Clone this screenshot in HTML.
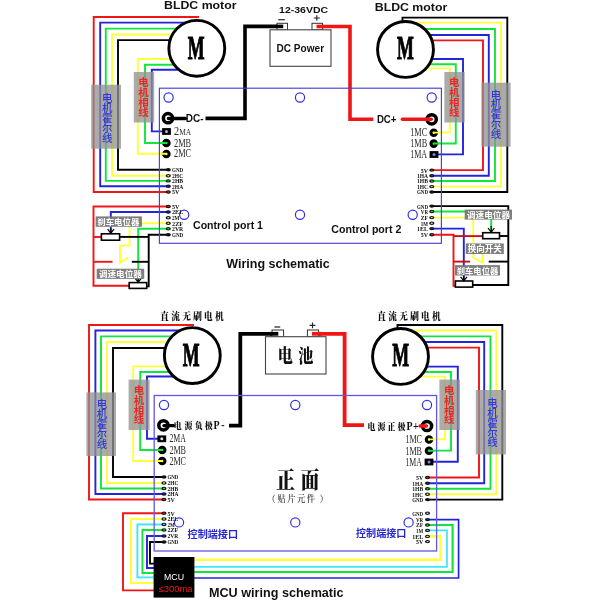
<!DOCTYPE html>
<html lang="zh"><head><meta charset="utf-8"><title>BLDC wiring schematic</title>
<style>
html,body{margin:0;padding:0;background:#fff;}
body{width:600px;height:600px;overflow:hidden;}
svg{display:block;}
</style></head><body>
<svg width="600" height="600" viewBox="0 0 600 600">
<rect width="600" height="600" fill="#fff"/>
<g id="d" style="filter:blur(0.4px)">
<path d="M199,17 H93.7 V192 H168" stroke="#f01616" stroke-width="1.9" fill="none" />
<path d="M197,22.6 H100.2 V186.3 H168" stroke="#2424dc" stroke-width="1.9" fill="none" />
<path d="M197,28.6 H105.8 V180.9 H168" stroke="#12e63e" stroke-width="1.9" fill="none" />
<path d="M197,34.5 H112 V175.7 H168" stroke="#ffff3c" stroke-width="1.9" fill="none" />
<path d="M197,40.1 H118 V169.8 H168" stroke="#000" stroke-width="1.9" fill="none" />
<path d="M197,59 H137.8 V153.7 H166" stroke="#ffff3c" stroke-width="1.9" fill="none" />
<path d="M197,64.7 H145 V143 H166" stroke="#12e63e" stroke-width="1.9" fill="none" />
<path d="M197,69.7 H151.8 V131.4 H163" stroke="#2424dc" stroke-width="1.9" fill="none" />
<path d="M402.5,24 V17.6 H507.3 V192 H432" stroke="#000" stroke-width="1.9" fill="none" />
<path d="M406,22.6 H501 V186.6 H432" stroke="#ffff3c" stroke-width="1.9" fill="none" />
<path d="M406,29 H495 V181 H432" stroke="#12e63e" stroke-width="1.9" fill="none" />
<path d="M406,35 H488.8 V175.7 H432" stroke="#2424dc" stroke-width="1.9" fill="none" />
<path d="M406,40.4 H483 V170.1 H432" stroke="#f01616" stroke-width="1.9" fill="none" />
<path d="M406,59 H463 V154.4 H434" stroke="#2424dc" stroke-width="1.9" fill="none" />
<path d="M406,64.2 H455.8 V143.5 H434" stroke="#12e63e" stroke-width="1.9" fill="none" />
<path d="M406,68.4 H449.8 V132.5 H434" stroke="#ffff3c" stroke-width="1.9" fill="none" />
<path d="M168,206.5 H93.5 V285.8 H129.2" stroke="#f01616" stroke-width="1.9" fill="none" />
<path d="M93.5,237 H101.3" stroke="#f01616" stroke-width="1.9" fill="none" />
<path d="M93.5,261.8 H112.5" stroke="#f01616" stroke-width="1.9" fill="none" />
<path d="M168,212 H110.8 V231.5" stroke="#2424dc" stroke-width="1.9" fill="none" />
<path d="M168,223.2 H129.5 V245.6 H120 V263 L128.4,257.3" stroke="#ffff3c" stroke-width="1.9" fill="none" />
<path d="M168,228.8 H138.2 V280.5" stroke="#12e63e" stroke-width="1.9" fill="none" />
<path d="M168,234.8 H148.7 V286.4 H146.7" stroke="#000" stroke-width="1.9" fill="none" />
<path d="M119.7,236.9 H148.7" stroke="#000" stroke-width="1.9" fill="none" />
<path d="M131.8,261.8 H148.7" stroke="#000" stroke-width="1.9" fill="none" />
<path d="M432,206.1 H508.3 V285 H472.7" stroke="#000" stroke-width="1.9" fill="none" />
<path d="M499.5,236 H508.3" stroke="#000" stroke-width="1.9" fill="none" />
<path d="M488.7,261.6 H508.3" stroke="#000" stroke-width="1.9" fill="none" />
<path d="M432,211.5 H491.2 V230.5" stroke="#12e63e" stroke-width="1.9" fill="none" />
<path d="M432,217.6 H473.2 V257.6 L482.6,262.6 V253" stroke="#ffff3c" stroke-width="1.9" fill="none" stroke-linejoin="round"/>
<path d="M432,228.6 H463.8 V279" stroke="#2424dc" stroke-width="1.9" fill="none" />
<path d="M432,234.8 H453.5 V285.8 H456" stroke="#f01616" stroke-width="1.9" fill="none" />
<path d="M453.5,236.1 H483" stroke="#cc1010" stroke-width="1.9" fill="none" />
<path d="M453.5,261.6 H470" stroke="#cc1010" stroke-width="1.9" fill="none" />
<path d="M283,26.4 H245 V118.4 H205.5" stroke="#000" stroke-width="3.6" fill="none" />
<path d="M316.7,26.5 H350 V119.2 H373.3" stroke="#f01616" stroke-width="3.6" fill="none" />
<rect x="159.4" y="88.2" width="282.0" height="155.1" fill="none" stroke="#4840d0" stroke-width="1.15" />
<circle cx="168.6" cy="97.5" r="4.6" fill="none" stroke="#3030e0" stroke-width="1.2"/>
<circle cx="300" cy="97.5" r="4.6" fill="none" stroke="#3030e0" stroke-width="1.2"/>
<circle cx="431.7" cy="97.5" r="4.6" fill="none" stroke="#3030e0" stroke-width="1.2"/>
<circle cx="184.2" cy="214.7" r="4.6" fill="none" stroke="#3030e0" stroke-width="1.2"/>
<circle cx="300" cy="214.7" r="4.6" fill="none" stroke="#3030e0" stroke-width="1.2"/>
<circle cx="412.7" cy="214.7" r="4.6" fill="none" stroke="#3030e0" stroke-width="1.2"/>
<circle cx="196.8" cy="48.3" r="27.95" fill="#fff" stroke="#000" stroke-width="2.9"/>
<text transform="translate(196.2,58.9) scale(0.53,1)" font-size="33.7" font-weight="bold" text-anchor="middle" fill="#000" stroke="#000" stroke-width="1.1" stroke-linejoin="round" font-family='"Liberation Serif",serif'>M</text>
<circle cx="405.5" cy="49.4" r="27.95" fill="#fff" stroke="#000" stroke-width="2.9"/>
<text transform="translate(405.5,58.9) scale(0.53,1)" font-size="33.7" font-weight="bold" text-anchor="middle" fill="#000" stroke="#000" stroke-width="1.1" stroke-linejoin="round" font-family='"Liberation Serif",serif'>M</text>
<rect x="91.2" y="84.7" width="29.8" height="64.0" fill="#929292" stroke="none" stroke-width="1" opacity="0.77"/>
<rect x="133.8" y="72" width="20.4" height="50.5" fill="#929292" stroke="none" stroke-width="1" opacity="0.77"/>
<rect x="444.4" y="72" width="20.3" height="50.5" fill="#929292" stroke="none" stroke-width="1" opacity="0.77"/>
<rect x="481.3" y="82.7" width="29.3" height="64.0" fill="#929292" stroke="none" stroke-width="1" opacity="0.77"/>
<text transform="scale(1.04,1)" x="102.98 102.98 102.98 102.98 102.98" y="102.1 112.0 121.9 131.8 141.7" font-size="10" fill="#3434e0" font-family='"Liberation Sans","Noto Sans CJK SC",sans-serif' font-weight="500" text-anchor="middle">电机霍尔线</text>
<text transform="scale(1.04,1)" x="137.88 137.88 137.88 137.88" y="85.7 95.75 105.8 115.85" font-size="10" fill="#f02424" font-family='"Liberation Sans","Noto Sans CJK SC",sans-serif' font-weight="bold" text-anchor="middle">电机相线</text>
<text transform="scale(1.04,1)" x="436.83 436.83 436.83 436.83" y="86.2 96.2 106.2 116.2" font-size="10" fill="#f02424" font-family='"Liberation Sans","Noto Sans CJK SC",sans-serif' font-weight="bold" text-anchor="middle">电机相线</text>
<text transform="scale(1.04,1)" x="476.83 476.83 476.83 476.83 476.83" y="98.6 108.45 118.3 128.15 138.0" font-size="10" fill="#3434e0" font-family='"Liberation Sans","Noto Sans CJK SC",sans-serif' font-weight="500" text-anchor="middle">电机霍尔线</text>
<rect x="277" y="23.3" width="10.5" height="6.7" fill="#fff" stroke="#333" stroke-width="1" />
<rect x="312" y="23.3" width="10.5" height="6.7" fill="#fff" stroke="#333" stroke-width="1" />
<rect x="270" y="29.8" width="61" height="36.5" fill="#fff" stroke="#444" stroke-width="1.1" />
<path d="M283.2,26.4 H276" stroke="#000" stroke-width="3.6" fill="none" />
<path d="M316.5,26.5 H324" stroke="#f01616" stroke-width="3.6" fill="none" />
<text x="300.3" y="52" font-size="10" fill="#111" font-family='"Liberation Sans","Noto Sans CJK SC",sans-serif' font-weight="bold" text-anchor="middle" textLength="47.5" lengthAdjust="spacingAndGlyphs" >DC Power</text>
<text x="303.6" y="13.0" font-size="9.7" fill="#111" font-family='"Liberation Sans","Noto Sans CJK SC",sans-serif' font-weight="bold" text-anchor="middle" textLength="49" lengthAdjust="spacingAndGlyphs" >12-36VDC</text>
<path d="M278.3,19.7 H284.8" stroke="#222" stroke-width="1.2" fill="none" />
<path d="M313.8,18 H319.8 M316.8,15.2 V20.8" stroke="#222" stroke-width="1.1" fill="none" />
<text x="200.3" y="8.5" font-size="10.6" fill="#111" font-family='"Liberation Sans","Noto Sans CJK SC",sans-serif' font-weight="bold" text-anchor="middle" textLength="72.5" lengthAdjust="spacingAndGlyphs" >BLDC motor</text>
<text x="411" y="10.5" font-size="10.6" fill="#111" font-family='"Liberation Sans","Noto Sans CJK SC",sans-serif' font-weight="bold" text-anchor="middle" textLength="72.5" lengthAdjust="spacingAndGlyphs" >BLDC motor</text>
<text x="194.7" y="121.8" font-size="10.2" fill="#111" font-family='"Liberation Sans","Noto Sans CJK SC",sans-serif' font-weight="bold" text-anchor="middle" textLength="17.8" lengthAdjust="spacingAndGlyphs" >DC-</text>
<text x="386.7" y="123.2" font-size="10" fill="#111" font-family='"Liberation Sans","Noto Sans CJK SC",sans-serif' font-weight="bold" text-anchor="middle" textLength="19.6" lengthAdjust="spacingAndGlyphs" >DC+</text>
<text x="228" y="229.3" font-size="10.8" fill="#111" font-family='"Liberation Sans","Noto Sans CJK SC",sans-serif' font-weight="bold" text-anchor="middle" textLength="70" lengthAdjust="spacingAndGlyphs" >Control port 1</text>
<text x="366.3" y="232.8" font-size="10.8" fill="#111" font-family='"Liberation Sans","Noto Sans CJK SC",sans-serif' font-weight="bold" text-anchor="middle" textLength="70" lengthAdjust="spacingAndGlyphs" >Control port 2</text>
<text x="278" y="268" font-size="13" fill="#111" font-family='"Liberation Sans","Noto Sans CJK SC",sans-serif' font-weight="bold" text-anchor="middle" textLength="103.5" lengthAdjust="spacingAndGlyphs" >Wiring schematic</text>
<circle cx="168" cy="118.2" r="4.6" fill="#fff" stroke="#000" stroke-width="3.5"/>
<path d="M185.3,118.4 H168.5" stroke="#000" stroke-width="3.5" fill="none" stroke-linecap="round"/>
<circle cx="431.7" cy="119.3" r="4.6" fill="#fff" stroke="#000" stroke-width="3.5"/>
<path d="M402.4,119.2 H431.2" stroke="#f01616" stroke-width="3.5" fill="none" stroke-linecap="round"/>
<rect x="162.1" y="128.1" width="8.8" height="6.8" fill="#000" stroke="none" stroke-width="1" />
<circle cx="166.5" cy="131.5" r="1.5" fill="#b8a8e8" stroke="none" stroke-width="1"/>
<circle cx="166.4" cy="143" r="2.75" fill="#12e63e" stroke="#000" stroke-width="3.1"/>
<circle cx="166.4" cy="154" r="2.75" fill="#ffff3c" stroke="#000" stroke-width="3.1"/>
<path d="M161.8,143 H166.1" stroke="#12e63e" stroke-width="1.9" fill="none" stroke-linecap="round"/>
<path d="M161.8,153.7 H166.1" stroke="#ffff3c" stroke-width="1.9" fill="none" stroke-linecap="round"/>
<text x="174" y="135" font-size="11.8" fill="#2a2a2a" font-family='"Liberation Serif",serif' textLength="17.2" lengthAdjust="spacingAndGlyphs">2<tspan font-size="8.6">MA</tspan></text>
<text x="174" y="146.7" font-size="11.8" fill="#2a2a2a" font-family='"Liberation Serif","Noto Serif CJK SC",serif' font-weight="normal" text-anchor="start" textLength="17.2" lengthAdjust="spacingAndGlyphs" >2MB</text>
<text x="174" y="157.3" font-size="11.8" fill="#2a2a2a" font-family='"Liberation Serif","Noto Serif CJK SC",serif' font-weight="normal" text-anchor="start" textLength="17.2" lengthAdjust="spacingAndGlyphs" >2MC</text>
<circle cx="433.7" cy="132.7" r="2.75" fill="#ffff3c" stroke="#000" stroke-width="3.1"/>
<circle cx="433.7" cy="143.6" r="2.75" fill="#12e63e" stroke="#000" stroke-width="3.1"/>
<rect x="429.6" y="151.1" width="8.8" height="6.8" fill="#000" stroke="none" stroke-width="1" />
<circle cx="434" cy="154.5" r="1.5" fill="#8080e8" stroke="none" stroke-width="1"/>
<path d="M438.3,132.6 H434.0" stroke="#ffff3c" stroke-width="1.9" fill="none" stroke-linecap="round"/>
<path d="M438.3,143.5 H434.0" stroke="#12e63e" stroke-width="1.9" fill="none" stroke-linecap="round"/>
<text x="427.2" y="136.3" font-size="11.8" fill="#2a2a2a" font-family='"Liberation Serif","Noto Serif CJK SC",serif' font-weight="normal" text-anchor="end" textLength="17" lengthAdjust="spacingAndGlyphs" >1MC</text>
<text x="427.2" y="147.3" font-size="11.8" fill="#2a2a2a" font-family='"Liberation Serif","Noto Serif CJK SC",serif' font-weight="normal" text-anchor="end" textLength="17" lengthAdjust="spacingAndGlyphs" >1MB</text>
<text x="427.2" y="158.3" font-size="11.8" fill="#2a2a2a" font-family='"Liberation Serif","Noto Serif CJK SC",serif' font-weight="normal" text-anchor="end" textLength="17" lengthAdjust="spacingAndGlyphs" >1MA</text>
<ellipse cx="168.3" cy="169.8" rx="2.6" ry="1.7" fill="#111"/>
<text x="172" y="172.10000000000002" font-size="6.7" fill="#111" font-family='"Liberation Serif","Noto Serif CJK SC",serif' font-weight="bold" text-anchor="start" textLength="11.2" lengthAdjust="spacingAndGlyphs" >GND</text>
<ellipse cx="168.3" cy="175.7" rx="2.6" ry="1.7" fill="#111"/>
<ellipse cx="168.3" cy="175.7" rx="1.1" ry="0.7" fill="#ffff3c"/>
<text x="172" y="178.0" font-size="6.7" fill="#111" font-family='"Liberation Serif","Noto Serif CJK SC",serif' font-weight="bold" text-anchor="start" textLength="11.2" lengthAdjust="spacingAndGlyphs" >2HC</text>
<ellipse cx="168.3" cy="180.9" rx="2.6" ry="1.7" fill="#111"/>
<ellipse cx="168.3" cy="180.9" rx="1.1" ry="0.7" fill="#12e63e"/>
<text x="172" y="183.20000000000002" font-size="6.7" fill="#111" font-family='"Liberation Serif","Noto Serif CJK SC",serif' font-weight="bold" text-anchor="start" textLength="11.2" lengthAdjust="spacingAndGlyphs" >2HB</text>
<ellipse cx="168.3" cy="186.3" rx="2.6" ry="1.7" fill="#111"/>
<ellipse cx="168.3" cy="186.3" rx="1.1" ry="0.7" fill="#2424dc"/>
<text x="172" y="188.60000000000002" font-size="6.7" fill="#111" font-family='"Liberation Serif","Noto Serif CJK SC",serif' font-weight="bold" text-anchor="start" textLength="11.2" lengthAdjust="spacingAndGlyphs" >2HA</text>
<ellipse cx="168.3" cy="192" rx="2.6" ry="1.7" fill="#111"/>
<ellipse cx="168.3" cy="192" rx="1.1" ry="0.7" fill="#f01616"/>
<text x="172" y="194.3" font-size="6.7" fill="#111" font-family='"Liberation Serif","Noto Serif CJK SC",serif' font-weight="bold" text-anchor="start" textLength="7.4" lengthAdjust="spacingAndGlyphs" >5V</text>
<ellipse cx="168.3" cy="206.5" rx="2.6" ry="1.7" fill="#111"/>
<ellipse cx="168.3" cy="206.5" rx="1.1" ry="0.7" fill="#f01616"/>
<text x="172" y="208.8" font-size="6.7" fill="#111" font-family='"Liberation Serif","Noto Serif CJK SC",serif' font-weight="bold" text-anchor="start" textLength="7.4" lengthAdjust="spacingAndGlyphs" >5V</text>
<ellipse cx="168.3" cy="212" rx="2.6" ry="1.7" fill="#111"/>
<ellipse cx="168.3" cy="212" rx="1.1" ry="0.7" fill="#2424dc"/>
<text x="172" y="214.3" font-size="6.7" fill="#111" font-family='"Liberation Serif","Noto Serif CJK SC",serif' font-weight="bold" text-anchor="start" textLength="11.2" lengthAdjust="spacingAndGlyphs" >2EL</text>
<ellipse cx="168.3" cy="217.8" rx="2.6" ry="1.7" fill="#111"/>
<ellipse cx="168.3" cy="217.8" rx="1.1" ry="0.7" fill="#ddd"/>
<text x="172" y="220.10000000000002" font-size="6.7" fill="#111" font-family='"Liberation Serif","Noto Serif CJK SC",serif' font-weight="bold" text-anchor="start" textLength="7.4" lengthAdjust="spacingAndGlyphs" >2M</text>
<ellipse cx="168.3" cy="223.2" rx="2.6" ry="1.7" fill="#111"/>
<ellipse cx="168.3" cy="223.2" rx="1.1" ry="0.7" fill="#ffff3c"/>
<text x="172" y="225.5" font-size="6.7" fill="#111" font-family='"Liberation Serif","Noto Serif CJK SC",serif' font-weight="bold" text-anchor="start" textLength="11.2" lengthAdjust="spacingAndGlyphs" >2ZF</text>
<ellipse cx="168.3" cy="228.8" rx="2.6" ry="1.7" fill="#111"/>
<ellipse cx="168.3" cy="228.8" rx="1.1" ry="0.7" fill="#12e63e"/>
<text x="172" y="231.10000000000002" font-size="6.7" fill="#111" font-family='"Liberation Serif","Noto Serif CJK SC",serif' font-weight="bold" text-anchor="start" textLength="11.2" lengthAdjust="spacingAndGlyphs" >2VR</text>
<ellipse cx="168.3" cy="234.8" rx="2.6" ry="1.7" fill="#111"/>
<text x="172" y="237.10000000000002" font-size="6.7" fill="#111" font-family='"Liberation Serif","Noto Serif CJK SC",serif' font-weight="bold" text-anchor="start" textLength="11.2" lengthAdjust="spacingAndGlyphs" >GND</text>
<ellipse cx="431.8" cy="170.1" rx="2.6" ry="1.7" fill="#111"/>
<ellipse cx="431.8" cy="170.1" rx="1.1" ry="0.7" fill="#f01616"/>
<text x="428" y="172.5" font-size="6.7" fill="#111" font-family='"Liberation Serif","Noto Serif CJK SC",serif' font-weight="bold" text-anchor="end" textLength="7.2" lengthAdjust="spacingAndGlyphs" >5V</text>
<ellipse cx="431.8" cy="175.7" rx="2.6" ry="1.7" fill="#111"/>
<ellipse cx="431.8" cy="175.7" rx="1.1" ry="0.7" fill="#2424dc"/>
<text x="428" y="178.1" font-size="6.7" fill="#111" font-family='"Liberation Serif","Noto Serif CJK SC",serif' font-weight="bold" text-anchor="end" textLength="11" lengthAdjust="spacingAndGlyphs" >1HA</text>
<ellipse cx="431.8" cy="181" rx="2.6" ry="1.7" fill="#111"/>
<ellipse cx="431.8" cy="181" rx="1.1" ry="0.7" fill="#12e63e"/>
<text x="428" y="183.4" font-size="6.7" fill="#111" font-family='"Liberation Serif","Noto Serif CJK SC",serif' font-weight="bold" text-anchor="end" textLength="11" lengthAdjust="spacingAndGlyphs" >1HB</text>
<ellipse cx="431.8" cy="186.6" rx="2.6" ry="1.7" fill="#111"/>
<ellipse cx="431.8" cy="186.6" rx="1.1" ry="0.7" fill="#ffff3c"/>
<text x="428" y="189.0" font-size="6.7" fill="#111" font-family='"Liberation Serif","Noto Serif CJK SC",serif' font-weight="bold" text-anchor="end" textLength="11" lengthAdjust="spacingAndGlyphs" >1HC</text>
<ellipse cx="431.8" cy="192" rx="2.6" ry="1.7" fill="#111"/>
<text x="428" y="194.4" font-size="6.7" fill="#111" font-family='"Liberation Serif","Noto Serif CJK SC",serif' font-weight="bold" text-anchor="end" textLength="11" lengthAdjust="spacingAndGlyphs" >GND</text>
<ellipse cx="431.8" cy="206.1" rx="2.6" ry="1.7" fill="#111"/>
<text x="428" y="208.5" font-size="6.7" fill="#111" font-family='"Liberation Serif","Noto Serif CJK SC",serif' font-weight="bold" text-anchor="end" textLength="11" lengthAdjust="spacingAndGlyphs" >GND</text>
<ellipse cx="431.8" cy="211.5" rx="2.6" ry="1.7" fill="#111"/>
<ellipse cx="431.8" cy="211.5" rx="1.1" ry="0.7" fill="#12e63e"/>
<text x="428" y="213.9" font-size="6.7" fill="#111" font-family='"Liberation Serif","Noto Serif CJK SC",serif' font-weight="bold" text-anchor="end" textLength="7.2" lengthAdjust="spacingAndGlyphs" >VR</text>
<ellipse cx="431.8" cy="217.6" rx="2.6" ry="1.7" fill="#111"/>
<ellipse cx="431.8" cy="217.6" rx="1.1" ry="0.7" fill="#ffff3c"/>
<text x="428" y="220.0" font-size="6.7" fill="#111" font-family='"Liberation Serif","Noto Serif CJK SC",serif' font-weight="bold" text-anchor="end" textLength="7.2" lengthAdjust="spacingAndGlyphs" >ZF</text>
<ellipse cx="431.8" cy="223.2" rx="2.6" ry="1.7" fill="#111"/>
<ellipse cx="431.8" cy="223.2" rx="1.1" ry="0.7" fill="#ddd"/>
<text x="428" y="225.6" font-size="6.7" fill="#111" font-family='"Liberation Serif","Noto Serif CJK SC",serif' font-weight="bold" text-anchor="end" textLength="7.2" lengthAdjust="spacingAndGlyphs" >1M</text>
<ellipse cx="431.8" cy="228.6" rx="2.6" ry="1.7" fill="#111"/>
<ellipse cx="431.8" cy="228.6" rx="1.1" ry="0.7" fill="#2424dc"/>
<text x="428" y="231.0" font-size="6.7" fill="#111" font-family='"Liberation Serif","Noto Serif CJK SC",serif' font-weight="bold" text-anchor="end" textLength="11" lengthAdjust="spacingAndGlyphs" >1EL</text>
<ellipse cx="431.8" cy="234.8" rx="2.6" ry="1.7" fill="#111"/>
<ellipse cx="431.8" cy="234.8" rx="1.1" ry="0.7" fill="#f01616"/>
<text x="428" y="237.20000000000002" font-size="6.7" fill="#111" font-family='"Liberation Serif","Noto Serif CJK SC",serif' font-weight="bold" text-anchor="end" textLength="7.2" lengthAdjust="spacingAndGlyphs" >5V</text>
<rect x="101.4" y="233.8" width="18.2" height="6.4" fill="#fff" stroke="#000" stroke-width="1.6" />
<path d="M107.6,229.2 L110.8,233.2 L114,229.2 M110.8,228.5 V233" stroke="#000" stroke-width="1.2" fill="none" />
<rect x="129.2" y="282.6" width="17.5" height="5.8" fill="#fff" stroke="#000" stroke-width="1.6" />
<path d="M135,278.2 L138.2,282.2 L141.4,278.2 M138.2,278.9 V282" stroke="#000" stroke-width="1.2" fill="none" />
<rect x="95.6" y="216.4" width="46.3" height="10.4" fill="#777" stroke="none" stroke-width="1" opacity="0.94"/>
<text x="118.3" y="224.9" font-size="8.3" fill="#fff" font-family='"Liberation Sans","Noto Sans CJK SC",sans-serif' font-weight="bold" text-anchor="middle" textLength="42" lengthAdjust="spacingAndGlyphs" >刹车电位器</text>
<rect x="96.7" y="268.7" width="47.5" height="10.2" fill="#777" stroke="none" stroke-width="1" opacity="0.94"/>
<text x="120.4" y="277" font-size="8.3" fill="#fff" font-family='"Liberation Sans","Noto Sans CJK SC",sans-serif' font-weight="bold" text-anchor="middle" textLength="43" lengthAdjust="spacingAndGlyphs" >调速电位器</text>
<rect x="482.7" y="232.7" width="16.8" height="6.0" fill="#fff" stroke="#000" stroke-width="1.6" />
<path d="M488,228 L491.2,232.2 L494.4,228 M491.2,226 V232" stroke="#000" stroke-width="1.2" fill="none" />
<rect x="455.4" y="281" width="17.3" height="6.1" fill="#fff" stroke="#000" stroke-width="1.6" />
<path d="M460.6,276.8 L463.8,280.8 L467,276.8 M463.8,275.5 V280.6" stroke="#000" stroke-width="1.2" fill="none" />
<rect x="464.7" y="209.6" width="47.3" height="10.0" fill="#777" stroke="none" stroke-width="1" opacity="0.94"/>
<text x="488.5" y="217.8" font-size="8.3" fill="#fff" font-family='"Liberation Sans","Noto Sans CJK SC",sans-serif' font-weight="bold" text-anchor="middle" textLength="43" lengthAdjust="spacingAndGlyphs" >调速电位器</text>
<rect x="465.8" y="243.4" width="38.0" height="10.6" fill="#777" stroke="none" stroke-width="1" opacity="0.94"/>
<text x="484.8" y="252" font-size="8.6" fill="#fff" font-family='"Liberation Sans","Noto Sans CJK SC",sans-serif' font-weight="bold" text-anchor="middle" textLength="34" lengthAdjust="spacingAndGlyphs" >换向开关</text>
<rect x="455" y="265.1" width="45" height="10.4" fill="#777" stroke="none" stroke-width="1" opacity="0.94"/>
<text x="477.5" y="273.6" font-size="8.3" fill="#fff" font-family='"Liberation Sans","Noto Sans CJK SC",sans-serif' font-weight="bold" text-anchor="middle" textLength="41.5" lengthAdjust="spacingAndGlyphs" >刹车电位器</text>
<path d="M194,325 H89 V499.5 H164" stroke="#f01616" stroke-width="1.9" fill="none" />
<path d="M192,330.5 H95.4 V494 H164" stroke="#2424dc" stroke-width="1.9" fill="none" />
<path d="M192,336.4 H101 V488.5 H164" stroke="#12e63e" stroke-width="1.9" fill="none" />
<path d="M192,342 H107 V483 H164" stroke="#ffff3c" stroke-width="1.9" fill="none" />
<path d="M192,348 H113 V477 H164" stroke="#000" stroke-width="1.9" fill="none" />
<path d="M192,366.4 H133.2 V461 H161" stroke="#ffff3c" stroke-width="1.9" fill="none" />
<path d="M192,372 H140.2 V450 H161" stroke="#12e63e" stroke-width="1.9" fill="none" />
<path d="M192,376.5 H147 V438.7 H158" stroke="#2424dc" stroke-width="1.9" fill="none" />
<path d="M397.5,330 V325 H502.3 V499.6 H427.5" stroke="#000" stroke-width="1.9" fill="none" />
<path d="M401,330.5 H496.3 V494.2 H427.5" stroke="#ffff3c" stroke-width="1.9" fill="none" />
<path d="M401,336.4 H490.5 V488.8 H427.5" stroke="#12e63e" stroke-width="1.9" fill="none" />
<path d="M401,342 H484.2 V483.3 H427.5" stroke="#2424dc" stroke-width="1.9" fill="none" />
<path d="M401,347.6 H479 V477.5 H427.5" stroke="#f01616" stroke-width="1.9" fill="none" />
<path d="M401,366.6 H457.8 V461.7 H429" stroke="#2424dc" stroke-width="1.9" fill="none" />
<path d="M401,372 H451 V450.6 H429" stroke="#12e63e" stroke-width="1.9" fill="none" />
<path d="M401,376.6 H445 V439.3 H429" stroke="#ffff3c" stroke-width="1.9" fill="none" />
<path d="M164,513.2 H123 V590.4 H156" stroke="#f01616" stroke-width="1.9" fill="none" />
<path d="M164,519 H131 V583 H156" stroke="#ffff3c" stroke-width="2.2" fill="none" />
<path d="M164,524.5 H137.4 V577.4 H156" stroke="#3fe6f5" stroke-width="1.9" fill="none" />
<path d="M164,530 H142.4 V573 H156" stroke="#12e63e" stroke-width="1.9" fill="none" />
<path d="M164,536 H147 V568 H156" stroke="#2424dc" stroke-width="1.9" fill="none" />
<path d="M164,542 H150 V563.6 H156" stroke="#000" stroke-width="1.9" fill="none" />
<path d="M192,559.8 H440.6 V536.4 H427.5" stroke="#ffff3c" stroke-width="2.6" fill="none" />
<path d="M192,566.8 H447 V530.4 H427.5" stroke="#3fe6f5" stroke-width="1.7" fill="none" />
<path d="M192,572 H452.6 V525 H427.5" stroke="#12e63e" stroke-width="2.2" fill="none" />
<path d="M192,578 H458.6 V519.6 H427.5" stroke="#2424dc" stroke-width="1.7" fill="none" />
<path d="M278,333.8 H240.3 V425.7 H229" stroke="#000" stroke-width="3.8" fill="none" />
<path d="M312,333.8 H344.6 V425.2 H364" stroke="#f01616" stroke-width="3.8" fill="none" />
<rect x="154.2" y="395.5" width="282.4" height="155.5" fill="none" stroke="#6258e0" stroke-width="1.3" />
<circle cx="164" cy="405" r="4.6" fill="none" stroke="#3030e0" stroke-width="1.2"/>
<circle cx="295.3" cy="405" r="4.6" fill="none" stroke="#3030e0" stroke-width="1.2"/>
<circle cx="427" cy="405" r="4.6" fill="none" stroke="#3030e0" stroke-width="1.2"/>
<circle cx="179" cy="522.4" r="4.6" fill="none" stroke="#3030e0" stroke-width="1.2"/>
<circle cx="295.3" cy="522.4" r="4.6" fill="none" stroke="#3030e0" stroke-width="1.2"/>
<circle cx="408.6" cy="522.4" r="4.6" fill="none" stroke="#3030e0" stroke-width="1.2"/>
<circle cx="192.3" cy="355.6" r="27.95" fill="#fff" stroke="#000" stroke-width="2.9"/>
<text transform="translate(191.2,365.9) scale(0.53,1)" font-size="33.7" font-weight="bold" text-anchor="middle" fill="#000" stroke="#000" stroke-width="1.1" stroke-linejoin="round" font-family='"Liberation Serif",serif'>M</text>
<circle cx="400.5" cy="356.4" r="27.95" fill="#fff" stroke="#000" stroke-width="2.9"/>
<text transform="translate(400.6,365.9) scale(0.53,1)" font-size="33.7" font-weight="bold" text-anchor="middle" fill="#000" stroke="#000" stroke-width="1.1" stroke-linejoin="round" font-family='"Liberation Serif",serif'>M</text>
<rect x="86.4" y="392.4" width="29.6" height="63.6" fill="#929292" stroke="none" stroke-width="1" opacity="0.77"/>
<rect x="128.6" y="379.6" width="21.0" height="50.4" fill="#929292" stroke="none" stroke-width="1" opacity="0.77"/>
<rect x="439.4" y="379.6" width="20.6" height="50.4" fill="#929292" stroke="none" stroke-width="1" opacity="0.77"/>
<rect x="475.8" y="390" width="30.2" height="64.4" fill="#929292" stroke="none" stroke-width="1" opacity="0.77"/>
<text transform="scale(1.04,1)" x="98.08 98.08 98.08 98.08 98.08" y="408.3 418.3 428.3 438.3 448.3" font-size="10" fill="#3434e0" font-family='"Liberation Sans","Noto Sans CJK SC",sans-serif' font-weight="500" text-anchor="middle">电机霍尔线</text>
<text transform="scale(1.04,1)" x="133.65 133.65 133.65 133.65" y="394.2 403.9 413.6 423.3" font-size="10" fill="#f02424" font-family='"Liberation Sans","Noto Sans CJK SC",sans-serif' font-weight="bold" text-anchor="middle">电机相线</text>
<text transform="scale(1.04,1)" x="432.02 432.02 432.02 432.02" y="394.2 403.9 413.6 423.3" font-size="10" fill="#f02424" font-family='"Liberation Sans","Noto Sans CJK SC",sans-serif' font-weight="bold" text-anchor="middle">电机相线</text>
<text transform="scale(1.04,1)" x="473.56 473.56 473.56 473.56 473.56" y="407.3 417.05 426.8 436.55 446.3" font-size="10" fill="#3434e0" font-family='"Liberation Sans","Noto Sans CJK SC",sans-serif' font-weight="500" text-anchor="middle">电机霍尔线</text>
<rect x="272" y="330" width="11.6" height="7" fill="#fff" stroke="#333" stroke-width="1" />
<rect x="307.4" y="330" width="11.2" height="7" fill="#fff" stroke="#333" stroke-width="1" />
<rect x="265.5" y="336.7" width="60.5" height="37.3" fill="#fff" stroke="#444" stroke-width="1.1" />
<path d="M278.3,333.8 H270" stroke="#000" stroke-width="3.8" fill="none" />
<path d="M312,333.8 H322" stroke="#f01616" stroke-width="3.8" fill="none" />
<text transform="scale(0.78,1)" x="365.77 392.05" y="363" font-size="19.4" fill="#111" font-family='"Liberation Serif","Noto Serif CJK SC",serif' font-weight="900" text-anchor="middle">电池</text>
<path d="M274.4,327 H280.2" stroke="#222" stroke-width="1.2" fill="none" />
<path d="M309.6,325.4 H315.4 M312.5,322.6 V328.2" stroke="#222" stroke-width="1.1" fill="none" />
<text transform="scale(0.84,1)" x="196.07 209.1 222.12 235.14 248.17 261.19" y="320" font-size="10.3" fill="#111" font-family='"Liberation Serif","Noto Serif CJK SC",serif' font-weight="900" text-anchor="middle">直流无刷电机</text>
<text transform="scale(0.84,1)" x="454.4 467.43 480.45 493.48 506.5 519.52" y="320" font-size="10.3" fill="#111" font-family='"Liberation Serif","Noto Serif CJK SC",serif' font-weight="900" text-anchor="middle">直流无刷电机</text>
<text transform="scale(0.86,1)" x="206.74 219.19 231.16 242.79 251.86 259.19" y="429.2" font-size="9.2" fill="#111" font-family='"Liberation Serif","Noto Serif CJK SC",serif' font-weight="900" text-anchor="middle">电源负极<tspan font-size="11.6">P-</tspan></text>
<text transform="scale(0.86,1)" x="431.98 443.6 455.23 466.86 476.28 483.6" y="430.2" font-size="9.2" fill="#111" font-family='"Liberation Serif","Noto Serif CJK SC",serif' font-weight="900" text-anchor="middle">电源正极<tspan font-size="11.6">P+</tspan></text>
<text transform="scale(0.84,1)" x="340.0 369.05" y="488.3" font-size="22.5" fill="#111" font-family='"Liberation Serif","Noto Serif CJK SC",serif' font-weight="900" text-anchor="middle">正面</text>
<text transform="scale(0.92,1)" x="295.11 306.2 316.85 327.39 338.04 352.17" y="502.4" font-size="9" fill="#222" font-family='"Liberation Serif","Noto Serif CJK SC",serif' font-weight="500" text-anchor="middle">（贴片元件）</text>
<text x="212.8" y="537.6" font-size="9.8" fill="#2626d0" font-family='"Liberation Sans","Noto Sans CJK SC",sans-serif' font-weight="bold" text-anchor="middle" textLength="50.5" lengthAdjust="spacingAndGlyphs" >控制端接口</text>
<text x="381.2" y="536.8" font-size="9.8" fill="#2626d0" font-family='"Liberation Sans","Noto Sans CJK SC",sans-serif' font-weight="bold" text-anchor="middle" textLength="50.5" lengthAdjust="spacingAndGlyphs" >控制端接口</text>
<text x="276.3" y="596.6" font-size="13" fill="#111" font-family='"Liberation Sans","Noto Sans CJK SC",sans-serif' font-weight="bold" text-anchor="middle" textLength="134.6" lengthAdjust="spacingAndGlyphs" >MCU wiring schematic</text>
<circle cx="163.4" cy="425.3" r="4.6" fill="#fff" stroke="#000" stroke-width="3.5"/>
<path d="M173.5,425.6 H164" stroke="#000" stroke-width="3.4" fill="none" stroke-linecap="round"/>
<circle cx="427" cy="426" r="4.6" fill="#fff" stroke="#000" stroke-width="3.5"/>
<path d="M420,426 H426.5" stroke="#f01616" stroke-width="3.4" fill="none" stroke-linecap="round"/>
<rect x="157.4" y="435.40000000000003" width="8.8" height="6.8" fill="#000" stroke="none" stroke-width="1" />
<circle cx="161.8" cy="438.8" r="1.5" fill="#ddd" stroke="none" stroke-width="1"/>
<circle cx="162.2" cy="450" r="2.75" fill="#12e63e" stroke="#000" stroke-width="3.1"/>
<circle cx="162.2" cy="461" r="2.75" fill="#ffff3c" stroke="#000" stroke-width="3.1"/>
<path d="M157.6,450 H161.89999999999998" stroke="#12e63e" stroke-width="1.9" fill="none" stroke-linecap="round"/>
<path d="M157.6,461 H161.89999999999998" stroke="#ffff3c" stroke-width="1.9" fill="none" stroke-linecap="round"/>
<text x="169.4" y="442.4" font-size="11.8" fill="#2a2a2a" font-family='"Liberation Serif","Noto Serif CJK SC",serif' font-weight="normal" text-anchor="start" textLength="16.6" lengthAdjust="spacingAndGlyphs" >2MA</text>
<text x="169.4" y="453.8" font-size="11.8" fill="#2a2a2a" font-family='"Liberation Serif","Noto Serif CJK SC",serif' font-weight="normal" text-anchor="start" textLength="16.6" lengthAdjust="spacingAndGlyphs" >2MB</text>
<text x="169.4" y="464.8" font-size="11.8" fill="#2a2a2a" font-family='"Liberation Serif","Noto Serif CJK SC",serif' font-weight="normal" text-anchor="start" textLength="16.6" lengthAdjust="spacingAndGlyphs" >2MC</text>
<circle cx="429" cy="439.5" r="2.75" fill="#ffff3c" stroke="#000" stroke-width="3.1"/>
<circle cx="429" cy="450.8" r="2.75" fill="#12e63e" stroke="#000" stroke-width="3.1"/>
<rect x="424.6" y="458.6" width="8.8" height="6.8" fill="#000" stroke="none" stroke-width="1" />
<circle cx="429" cy="462" r="1.5" fill="#8080e8" stroke="none" stroke-width="1"/>
<path d="M433.6,439.4 H429.3" stroke="#ffff3c" stroke-width="1.9" fill="none" stroke-linecap="round"/>
<path d="M433.6,450.7 H429.3" stroke="#12e63e" stroke-width="1.9" fill="none" stroke-linecap="round"/>
<text x="422" y="443.4" font-size="11.8" fill="#2a2a2a" font-family='"Liberation Serif","Noto Serif CJK SC",serif' font-weight="normal" text-anchor="end" textLength="16.6" lengthAdjust="spacingAndGlyphs" >1MC</text>
<text x="422" y="454.8" font-size="11.8" fill="#2a2a2a" font-family='"Liberation Serif","Noto Serif CJK SC",serif' font-weight="normal" text-anchor="end" textLength="16.6" lengthAdjust="spacingAndGlyphs" >1MB</text>
<text x="422" y="465.8" font-size="11.8" fill="#2a2a2a" font-family='"Liberation Serif","Noto Serif CJK SC",serif' font-weight="normal" text-anchor="end" textLength="16.6" lengthAdjust="spacingAndGlyphs" >1MA</text>
<ellipse cx="164" cy="477" rx="2.6" ry="1.7" fill="#111"/>
<text x="167.5" y="479.3" font-size="6.7" fill="#111" font-family='"Liberation Serif","Noto Serif CJK SC",serif' font-weight="bold" text-anchor="start" textLength="10.8" lengthAdjust="spacingAndGlyphs" >GND</text>
<ellipse cx="164" cy="483" rx="2.6" ry="1.7" fill="#111"/>
<ellipse cx="164" cy="483" rx="1.1" ry="0.7" fill="#ffff3c"/>
<text x="167.5" y="485.3" font-size="6.7" fill="#111" font-family='"Liberation Serif","Noto Serif CJK SC",serif' font-weight="bold" text-anchor="start" textLength="10.8" lengthAdjust="spacingAndGlyphs" >2HC</text>
<ellipse cx="164" cy="488.5" rx="2.6" ry="1.7" fill="#111"/>
<ellipse cx="164" cy="488.5" rx="1.1" ry="0.7" fill="#12e63e"/>
<text x="167.5" y="490.8" font-size="6.7" fill="#111" font-family='"Liberation Serif","Noto Serif CJK SC",serif' font-weight="bold" text-anchor="start" textLength="10.8" lengthAdjust="spacingAndGlyphs" >2HB</text>
<ellipse cx="164" cy="494" rx="2.6" ry="1.7" fill="#111"/>
<ellipse cx="164" cy="494" rx="1.1" ry="0.7" fill="#2424dc"/>
<text x="167.5" y="496.3" font-size="6.7" fill="#111" font-family='"Liberation Serif","Noto Serif CJK SC",serif' font-weight="bold" text-anchor="start" textLength="10.8" lengthAdjust="spacingAndGlyphs" >2HA</text>
<ellipse cx="164" cy="499.5" rx="2.6" ry="1.7" fill="#111"/>
<ellipse cx="164" cy="499.5" rx="1.1" ry="0.7" fill="#f01616"/>
<text x="167.5" y="501.8" font-size="6.7" fill="#111" font-family='"Liberation Serif","Noto Serif CJK SC",serif' font-weight="bold" text-anchor="start" textLength="7.2" lengthAdjust="spacingAndGlyphs" >5V</text>
<ellipse cx="164" cy="513.2" rx="2.6" ry="1.7" fill="#111"/>
<ellipse cx="164" cy="513.2" rx="1.1" ry="0.7" fill="#f01616"/>
<text x="167.5" y="515.5" font-size="6.7" fill="#111" font-family='"Liberation Serif","Noto Serif CJK SC",serif' font-weight="bold" text-anchor="start" textLength="7.2" lengthAdjust="spacingAndGlyphs" >5V</text>
<ellipse cx="164" cy="519" rx="2.6" ry="1.7" fill="#111"/>
<ellipse cx="164" cy="519" rx="1.1" ry="0.7" fill="#ffff3c"/>
<text x="167.5" y="521.3" font-size="6.7" fill="#111" font-family='"Liberation Serif","Noto Serif CJK SC",serif' font-weight="bold" text-anchor="start" textLength="10.8" lengthAdjust="spacingAndGlyphs" >2EL</text>
<ellipse cx="164" cy="524.5" rx="2.6" ry="1.7" fill="#111"/>
<ellipse cx="164" cy="524.5" rx="1.1" ry="0.7" fill="#3fe6f5"/>
<text x="167.5" y="526.8" font-size="6.7" fill="#111" font-family='"Liberation Serif","Noto Serif CJK SC",serif' font-weight="bold" text-anchor="start" textLength="7.2" lengthAdjust="spacingAndGlyphs" >2M</text>
<ellipse cx="164" cy="530" rx="2.6" ry="1.7" fill="#111"/>
<ellipse cx="164" cy="530" rx="1.1" ry="0.7" fill="#12e63e"/>
<text x="167.5" y="532.3" font-size="6.7" fill="#111" font-family='"Liberation Serif","Noto Serif CJK SC",serif' font-weight="bold" text-anchor="start" textLength="10.8" lengthAdjust="spacingAndGlyphs" >2ZF</text>
<ellipse cx="164" cy="536" rx="2.6" ry="1.7" fill="#111"/>
<ellipse cx="164" cy="536" rx="1.1" ry="0.7" fill="#2424dc"/>
<text x="167.5" y="538.3" font-size="6.7" fill="#111" font-family='"Liberation Serif","Noto Serif CJK SC",serif' font-weight="bold" text-anchor="start" textLength="10.8" lengthAdjust="spacingAndGlyphs" >2VR</text>
<ellipse cx="164" cy="542" rx="2.6" ry="1.7" fill="#111"/>
<text x="167.5" y="544.3" font-size="6.7" fill="#111" font-family='"Liberation Serif","Noto Serif CJK SC",serif' font-weight="bold" text-anchor="start" textLength="10.8" lengthAdjust="spacingAndGlyphs" >GND</text>
<ellipse cx="427.5" cy="477.5" rx="2.6" ry="1.7" fill="#111"/>
<ellipse cx="427.5" cy="477.5" rx="1.1" ry="0.7" fill="#f01616"/>
<text x="423.2" y="479.9" font-size="6.7" fill="#111" font-family='"Liberation Serif","Noto Serif CJK SC",serif' font-weight="bold" text-anchor="end" textLength="7.2" lengthAdjust="spacingAndGlyphs" >5V</text>
<ellipse cx="427.5" cy="483.3" rx="2.6" ry="1.7" fill="#111"/>
<ellipse cx="427.5" cy="483.3" rx="1.1" ry="0.7" fill="#2424dc"/>
<text x="423.2" y="485.7" font-size="6.7" fill="#111" font-family='"Liberation Serif","Noto Serif CJK SC",serif' font-weight="bold" text-anchor="end" textLength="11" lengthAdjust="spacingAndGlyphs" >1HA</text>
<ellipse cx="427.5" cy="488.8" rx="2.6" ry="1.7" fill="#111"/>
<ellipse cx="427.5" cy="488.8" rx="1.1" ry="0.7" fill="#12e63e"/>
<text x="423.2" y="491.2" font-size="6.7" fill="#111" font-family='"Liberation Serif","Noto Serif CJK SC",serif' font-weight="bold" text-anchor="end" textLength="11" lengthAdjust="spacingAndGlyphs" >1HB</text>
<ellipse cx="427.5" cy="494.2" rx="2.6" ry="1.7" fill="#111"/>
<ellipse cx="427.5" cy="494.2" rx="1.1" ry="0.7" fill="#ffff3c"/>
<text x="423.2" y="496.59999999999997" font-size="6.7" fill="#111" font-family='"Liberation Serif","Noto Serif CJK SC",serif' font-weight="bold" text-anchor="end" textLength="11" lengthAdjust="spacingAndGlyphs" >1HC</text>
<ellipse cx="427.5" cy="499.6" rx="2.6" ry="1.7" fill="#111"/>
<text x="423.2" y="502.0" font-size="6.7" fill="#111" font-family='"Liberation Serif","Noto Serif CJK SC",serif' font-weight="bold" text-anchor="end" textLength="11" lengthAdjust="spacingAndGlyphs" >GND</text>
<ellipse cx="427.5" cy="513.2" rx="2.6" ry="1.7" fill="#111"/>
<ellipse cx="427.5" cy="513.2" rx="1.1" ry="0.7" fill="#ddd"/>
<text x="423.2" y="515.6" font-size="6.7" fill="#111" font-family='"Liberation Serif","Noto Serif CJK SC",serif' font-weight="bold" text-anchor="end" textLength="11" lengthAdjust="spacingAndGlyphs" >GND</text>
<ellipse cx="427.5" cy="519.6" rx="2.6" ry="1.7" fill="#111"/>
<ellipse cx="427.5" cy="519.6" rx="1.1" ry="0.7" fill="#2424dc"/>
<text x="423.2" y="522.0" font-size="6.7" fill="#111" font-family='"Liberation Serif","Noto Serif CJK SC",serif' font-weight="bold" text-anchor="end" textLength="7.2" lengthAdjust="spacingAndGlyphs" >VR</text>
<ellipse cx="427.5" cy="525" rx="2.6" ry="1.7" fill="#111"/>
<ellipse cx="427.5" cy="525" rx="1.1" ry="0.7" fill="#12e63e"/>
<text x="423.2" y="527.4" font-size="6.7" fill="#111" font-family='"Liberation Serif","Noto Serif CJK SC",serif' font-weight="bold" text-anchor="end" textLength="7.2" lengthAdjust="spacingAndGlyphs" >ZF</text>
<ellipse cx="427.5" cy="530.4" rx="2.6" ry="1.7" fill="#111"/>
<ellipse cx="427.5" cy="530.4" rx="1.1" ry="0.7" fill="#3fe6f5"/>
<text x="423.2" y="532.8" font-size="6.7" fill="#111" font-family='"Liberation Serif","Noto Serif CJK SC",serif' font-weight="bold" text-anchor="end" textLength="7.2" lengthAdjust="spacingAndGlyphs" >1M</text>
<ellipse cx="427.5" cy="536.4" rx="2.6" ry="1.7" fill="#111"/>
<ellipse cx="427.5" cy="536.4" rx="1.1" ry="0.7" fill="#ffff3c"/>
<text x="423.2" y="538.8" font-size="6.7" fill="#111" font-family='"Liberation Serif","Noto Serif CJK SC",serif' font-weight="bold" text-anchor="end" textLength="11" lengthAdjust="spacingAndGlyphs" >1EL</text>
<ellipse cx="427.5" cy="541.6" rx="2.6" ry="1.7" fill="#111"/>
<ellipse cx="427.5" cy="541.6" rx="1.1" ry="0.7" fill="#ddd"/>
<text x="423.2" y="544.0" font-size="6.7" fill="#111" font-family='"Liberation Serif","Noto Serif CJK SC",serif' font-weight="bold" text-anchor="end" textLength="7.2" lengthAdjust="spacingAndGlyphs" >5V</text>
<rect x="153.6" y="557" width="40.8" height="40.6" fill="#000" stroke="none" stroke-width="1" />
<text x="174" y="580.2" font-size="9.2" fill="#fff" font-family='"Liberation Sans","Noto Sans CJK SC",sans-serif' font-weight="normal" text-anchor="middle" textLength="20" lengthAdjust="spacingAndGlyphs" >MCU</text>
<text x="175.5" y="592" font-size="9.2" fill="#f01818" font-family='"Liberation Sans","Noto Sans CJK SC",sans-serif' font-weight="normal" text-anchor="middle" textLength="34" lengthAdjust="spacingAndGlyphs" >≤300ma</text>
</g>
</svg>
</body></html>
